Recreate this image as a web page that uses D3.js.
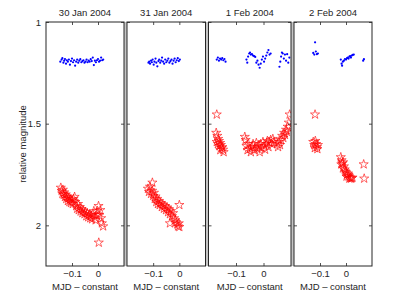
<!DOCTYPE html>
<html>
<head>
<meta charset="utf-8">
<script src="https://cdn.jsdelivr.net/npm/d3@7"></script>
<style>
  body { margin: 0; background: #fff; }
  text { font-family: "Liberation Sans", Arial, sans-serif; fill: #262626; }
</style>
</head>
<body>
<svg id="chart"></svg>
<script>
// panel titles and shared axis settings
const panelTitles = ["30 Jan 2004", "31 Jan 2004", "1 Feb 2004", "2 Feb 2004"];
const mjdDomain = [-0.2, 0.1];
const magDomain = [1, 2.2];
const xTicks = [-0.1, 0];
const yTicks = [1, 1.5, 2];

// [MJD - constant, relative magnitude] — comparison star (blue dots)
const jan30Blue = [[-0.145,1.195],[-0.140,1.185],[-0.137,1.178],[-0.133,1.200],[-0.130,1.190],[-0.127,1.182],[-0.123,1.205],[-0.120,1.188],[-0.116,1.195],[-0.112,1.185],[-0.108,1.210],[-0.104,1.192],[-0.100,1.180],[-0.096,1.198],[-0.092,1.188],[-0.088,1.215],[-0.084,1.195],[-0.080,1.185],[-0.076,1.200],[-0.072,1.190],[-0.068,1.183],[-0.064,1.198],[-0.060,1.192],[-0.056,1.188],[-0.052,1.200],[-0.048,1.195],[-0.044,1.185],[-0.040,1.198],[-0.036,1.190],[-0.032,1.195],[-0.028,1.183],[-0.024,1.192],[-0.020,1.175],[-0.016,1.212],[-0.012,1.190],[-0.008,1.198],[-0.004,1.188],[0.000,1.182],[0.004,1.195],[0.008,1.190],[0.012,1.175],[0.016,1.188],[0.020,1.185]];
const jan31Blue = [[-0.118,1.200],[-0.115,1.195],[-0.112,1.205],[-0.108,1.190],[-0.105,1.198],[-0.102,1.185],[-0.098,1.210],[-0.095,1.195],[-0.091,1.180],[-0.088,1.200],[-0.084,1.218],[-0.080,1.192],[-0.077,1.185],[-0.073,1.200],[-0.069,1.190],[-0.066,1.175],[-0.062,1.195],[-0.058,1.205],[-0.054,1.185],[-0.050,1.198],[-0.046,1.190],[-0.042,1.180],[-0.038,1.200],[-0.034,1.192],[-0.030,1.185],[-0.026,1.205],[-0.022,1.190],[-0.018,1.180],[-0.014,1.198],[-0.010,1.188],[-0.006,1.178],[-0.002,1.192],[0.002,1.185]];
const feb1Blue = [[-0.170,1.185],[-0.166,1.175],[-0.162,1.190],[-0.158,1.180],[-0.154,1.185],[-0.150,1.178],[-0.146,1.188],[-0.142,1.182],[-0.138,1.195],[-0.062,1.185],[-0.059,1.200],[-0.056,1.170],[-0.052,1.155],[-0.049,1.150],[-0.046,1.160],[-0.042,1.158],[-0.038,1.165],[-0.034,1.168],[-0.030,1.172],[-0.026,1.200],[-0.022,1.190],[-0.018,1.210],[-0.014,1.225],[-0.010,1.205],[-0.006,1.185],[-0.002,1.170],[0.002,1.195],[0.006,1.180],[0.010,1.165],[0.014,1.150],[0.018,1.138],[0.022,1.160],[0.026,1.155],[0.058,1.220],[0.061,1.195],[0.064,1.170],[0.067,1.150],[0.070,1.155],[0.074,1.180],[0.078,1.160],[0.082,1.190],[0.086,1.158],[0.090,1.200],[0.094,1.175]];
const feb2Blue = [[-0.119,1.100],[-0.126,1.152],[-0.122,1.160],[-0.116,1.145],[-0.112,1.158],[-0.108,1.155],[-0.020,1.185],[-0.017,1.205],[-0.015,1.215],[-0.012,1.195],[-0.008,1.190],[-0.004,1.182],[0.000,1.185],[0.004,1.178],[0.007,1.175],[0.010,1.180],[0.013,1.170],[0.016,1.168],[0.019,1.175],[0.022,1.165],[0.026,1.162],[0.030,1.160],[0.066,1.190],[0.069,1.183]];

// [MJD - constant, relative magnitude] — target (red stars)
const jan30Red = [[-0.143,1.815],[-0.140,1.830],[-0.137,1.845],[-0.135,1.825],[-0.132,1.850],[-0.130,1.838],[-0.127,1.860],[-0.124,1.848],[-0.122,1.870],[-0.119,1.858],[-0.116,1.880],[-0.113,1.865],[-0.110,1.885],[-0.107,1.872],[-0.104,1.890],[-0.100,1.878],[-0.097,1.895],[-0.094,1.870],[-0.090,1.860],[-0.087,1.885],[-0.084,1.905],[-0.080,1.918],[-0.077,1.895],[-0.074,1.925],[-0.070,1.910],[-0.067,1.932],[-0.063,1.920],[-0.060,1.940],[-0.056,1.928],[-0.052,1.945],[-0.048,1.935],[-0.045,1.955],[-0.041,1.940],[-0.038,1.960],[-0.034,1.948],[-0.030,1.965],[-0.027,1.952],[-0.023,1.970],[-0.020,1.945],[-0.016,1.930],[-0.013,1.960],[-0.009,1.975],[-0.005,1.950],[-0.002,1.930],[0.002,1.905],[0.005,1.950],[0.009,1.925],[0.012,1.965],[0.015,1.990],[0.020,2.005],[0.003,2.085]];
const jan31Red = [[-0.120,1.820],[-0.116,1.835],[-0.112,1.810],[-0.108,1.845],[-0.103,1.790],[-0.104,1.830],[-0.100,1.855],[-0.097,1.840],[-0.094,1.870],[-0.091,1.858],[-0.088,1.885],[-0.085,1.870],[-0.082,1.895],[-0.078,1.880],[-0.075,1.900],[-0.071,1.890],[-0.067,1.910],[-0.063,1.898],[-0.059,1.918],[-0.055,1.905],[-0.051,1.925],[-0.047,1.912],[-0.043,1.935],[-0.040,1.920],[-0.036,1.945],[-0.032,1.930],[-0.028,1.955],[-0.024,1.940],[-0.020,1.965],[-0.016,1.975],[-0.012,1.985],[-0.008,1.995],[-0.005,2.005],[-0.002,1.990],[0.000,2.008],[-0.036,1.990],[0.000,1.900]];
const feb1Red = [[-0.170,1.455],[-0.172,1.545],[-0.168,1.560],[-0.165,1.575],[-0.170,1.590],[-0.162,1.585],[-0.166,1.600],[-0.158,1.595],[-0.160,1.610],[-0.155,1.605],[-0.152,1.620],[-0.157,1.630],[-0.150,1.615],[-0.147,1.628],[-0.145,1.640],[-0.068,1.565],[-0.065,1.580],[-0.062,1.610],[-0.058,1.630],[-0.055,1.600],[-0.050,1.625],[-0.046,1.640],[-0.042,1.615],[-0.038,1.600],[-0.034,1.630],[-0.030,1.615],[-0.026,1.595],[-0.022,1.625],[-0.018,1.610],[-0.014,1.640],[-0.010,1.600],[-0.006,1.620],[-0.002,1.590],[0.002,1.610],[0.006,1.628],[0.010,1.600],[0.014,1.585],[0.018,1.615],[0.022,1.595],[0.026,1.580],[0.030,1.600],[0.034,1.575],[0.038,1.590],[0.050,1.600],[0.053,1.615],[0.056,1.590],[0.060,1.605],[0.064,1.580],[0.068,1.560],[0.072,1.570],[0.075,1.545],[0.078,1.555],[0.082,1.530],[0.085,1.540],[0.088,1.515],[0.092,1.495],[0.095,1.455]];
const feb2Red = [[-0.119,1.455],[-0.126,1.590],[-0.122,1.605],[-0.118,1.585],[-0.115,1.600],[-0.112,1.615],[-0.120,1.620],[-0.108,1.605],[-0.110,1.625],[-0.020,1.665],[-0.017,1.680],[-0.014,1.695],[-0.018,1.700],[-0.011,1.690],[-0.008,1.710],[-0.012,1.720],[-0.005,1.725],[-0.002,1.735],[0.001,1.740],[0.004,1.750],[0.002,1.760],[0.007,1.745],[0.010,1.760],[0.013,1.770],[0.016,1.765],[0.019,1.770],[0.022,1.768],[0.025,1.765],[0.068,1.700],[0.070,1.770]];

const blueSeries = [jan30Blue, jan31Blue, feb1Blue, feb2Blue];
const redSeries = [jan30Red, jan31Red, feb1Red, feb2Red];

// layout
const W = 399, H = 300;
const yTop = 22, yBottom = 266;
const panelX = [[46, 124], [127, 205.5], [208.5, 291], [294, 372]];

const svg = d3.select("#chart").attr("width", W).attr("height", H);

const y = d3.scaleLinear().domain(magDomain).range([yTop, yBottom]);

// grey strips between the panels
for (let i = 0; i < panelX.length - 1; i++) {
  svg.append("rect")
    .attr("x", panelX[i][1])
    .attr("y", yTop)
    .attr("width", panelX[i + 1][0] - panelX[i][1])
    .attr("height", yBottom - yTop)
    .attr("fill", "#c4c4c4");
}

const star = d3.symbol().type(d3.symbolStar).size(26);

panelTitles.forEach((title, i) => {
  const [x0, x1] = panelX[i];
  const x = d3.scaleLinear().domain(mjdDomain).range([x0, x1]);
  const g = svg.append("g");

  g.append("rect")
    .attr("x", x0).attr("y", yTop)
    .attr("width", x1 - x0).attr("height", yBottom - yTop)
    .attr("fill", "#fff");

  const clipId = "clip" + i;
  g.append("clipPath").attr("id", clipId)
    .append("rect")
    .attr("x", x0).attr("y", yTop)
    .attr("width", x1 - x0).attr("height", yBottom - yTop);

  const plot = g.append("g").attr("clip-path", `url(#${clipId})`);

  plot.selectAll(".dot")
    .data(blueSeries[i])
    .join("circle")
    .attr("class", "dot")
    .attr("cx", d => x(d[0]))
    .attr("cy", d => y(d[1]))
    .attr("r", 1.1)
    .attr("fill", "#0000ff");

  plot.selectAll(".star")
    .data(redSeries[i])
    .join("path")
    .attr("class", "star")
    .attr("transform", d => `translate(${x(d[0])},${y(d[1])})`)
    .attr("d", star)
    .attr("fill", "none")
    .attr("stroke", "#ff0000")
    .attr("stroke-width", 0.6);

  // axes with inward ticks
  const xb = g.append("g")
    .attr("transform", `translate(0,${yBottom})`)
    .call(d3.axisBottom(x).tickValues(xTicks).tickFormat(d3.format(""))
      .tickSizeInner(-3).tickSizeOuter(0).tickPadding(4));
  const xt = g.append("g")
    .attr("transform", `translate(0,${yTop})`)
    .call(d3.axisTop(x).tickValues(xTicks).tickFormat("")
      .tickSizeInner(-3).tickSizeOuter(0));
  const yl = g.append("g")
    .attr("transform", `translate(${x0},0)`)
    .call(d3.axisLeft(y).tickValues(yTicks)
      .tickFormat(i === 0 ? d3.format("") : "")
      .tickSizeInner(-3).tickSizeOuter(0).tickPadding(5));
  const yr = g.append("g")
    .attr("transform", `translate(${x1},0)`)
    .call(d3.axisRight(y).tickValues(yTicks).tickFormat("")
      .tickSizeInner(-3).tickSizeOuter(0));

  [xb, xt, yl, yr].forEach(a => {
    a.select(".domain").remove();
    a.selectAll(".tick line").attr("stroke", "#262626").attr("stroke-width", 0.8);
    a.selectAll(".tick text").attr("font-size", 9.5)
      .attr("font-family", "Liberation Sans, Arial, sans-serif").attr("fill", "#262626");
  });

  g.append("rect")
    .attr("x", x0).attr("y", yTop)
    .attr("width", x1 - x0).attr("height", yBottom - yTop)
    .attr("fill", "none")
    .attr("stroke", "#262626")
    .attr("stroke-width", 1);

  svg.append("text")
    .attr("x", (x0 + x1) / 2).attr("y", 16)
    .attr("text-anchor", "middle")
    .attr("font-size", 9.5)
    .text(title);

  svg.append("text")
    .attr("x", (x0 + x1) / 2).attr("y", 290)
    .attr("text-anchor", "middle")
    .attr("font-size", 9.5)
    .text("MJD \u2013 constant");
});

svg.append("text")
  .attr("transform", `translate(26,${(yTop + yBottom) / 2}) rotate(-90)`)
  .attr("text-anchor", "middle")
  .attr("font-size", 9.5)
  .text("relative magnitude");
</script>
</body>
</html>
